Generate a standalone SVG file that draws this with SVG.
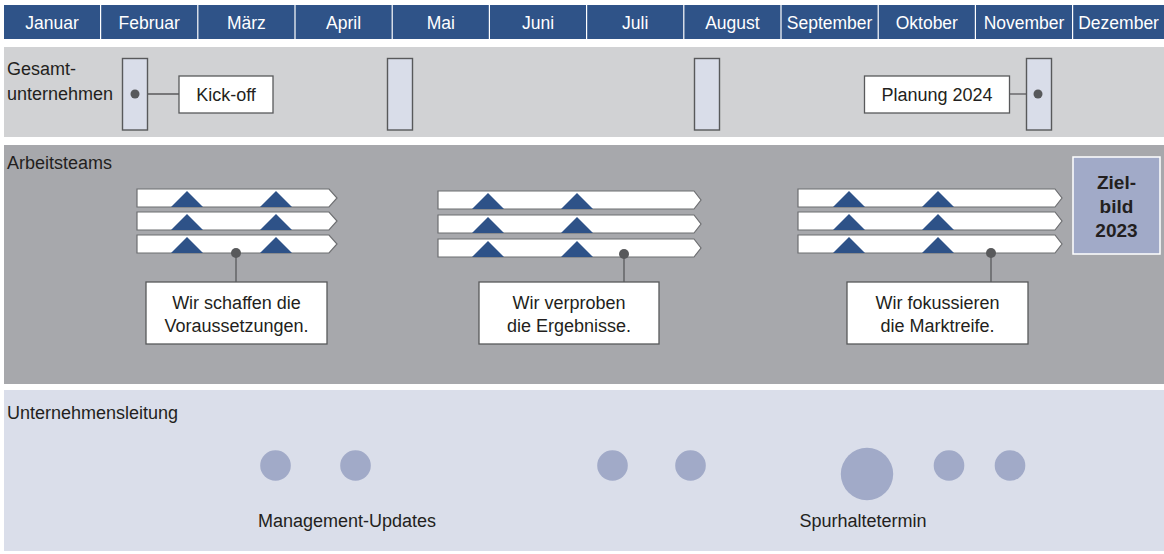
<svg xmlns="http://www.w3.org/2000/svg" xmlns:xlink="http://www.w3.org/1999/xlink" width="1164" height="554" viewBox="0 0 1164 554">
<defs>
<style>
text{font-family:"Liberation Sans",Arial,sans-serif;font-size:18px;fill:#231f20}
.hd rect{fill:#2f5388}
.hd text{fill:#ffffff;text-anchor:middle;font-size:17.5px}
.mid{text-anchor:middle}
.tall{fill:#d9dde9;stroke:#58595b;stroke-width:1.4}
.box{fill:#ffffff;stroke:#58595b;stroke-width:1.3}
.bar{fill:#ffffff;stroke:#6d6e71;stroke-width:1.2}
.tri{fill:#2e5288}
.dot{fill:#58595b}
.ln{stroke:#58595b;stroke-width:1.3;fill:none}
.circ{fill:#a1aac8}
.zb{fill:#a1aac8;stroke:#ffffff;stroke-width:1.5}
.bold{font-weight:bold;font-size:19px;text-anchor:middle}
</style>
<path id="tri" d="M0,0 L16,-16 L32,0 Z"/>
</defs>
<rect width="1164" height="554" fill="#ffffff"/>

<g id="header" class="hd">
<rect x="4" y="5" width="96" height="34"/><text x="52" y="28.5">Januar</text>
<rect x="101.2" y="5" width="96" height="34"/><text x="149.2" y="28.5">Februar</text>
<rect x="198.4" y="5" width="96" height="34"/><text x="246.4" y="28.5">März</text>
<rect x="295.6" y="5" width="96" height="34"/><text x="343.6" y="28.5">April</text>
<rect x="392.8" y="5" width="96" height="34"/><text x="440.8" y="28.5">Mai</text>
<rect x="490" y="5" width="96" height="34"/><text x="538" y="28.5">Juni</text>
<rect x="587.2" y="5" width="96" height="34"/><text x="635.2" y="28.5">Juli</text>
<rect x="684.4" y="5" width="96" height="34"/><text x="732.4" y="28.5">August</text>
<rect x="781.6" y="5" width="96" height="34"/><text x="829.6" y="28.5">September</text>
<rect x="878.8" y="5" width="96" height="34"/><text x="926.8" y="28.5">Oktober</text>
<rect x="976" y="5" width="96" height="34"/><text x="1024" y="28.5">November</text>
<rect x="1073.2" y="5" width="91" height="34"/><text x="1118.6" y="28.5">Dezember</text>
</g>

<g id="band-gesamt">
<rect x="4" y="47" width="1160" height="90" fill="#d1d2d4"/>
<text x="7" y="75">Gesamt-</text>
<text x="7" y="100">unternehmen</text>
</g>
<g id="band-teams">
<rect x="4" y="145" width="1160" height="239" fill="#a7a8ac"/>
<text x="7" y="169">Arbeitsteams</text>
</g>
<g id="band-leitung">
<rect x="4" y="390" width="1160" height="161" fill="#dadeea"/>
<text x="7" y="419">Unternehmensleitung</text>
</g>

<g id="connectors">
<line class="ln" x1="135" y1="94" x2="179" y2="94"/>
<line class="ln" x1="1010" y1="94" x2="1038" y2="94"/>
<line class="ln" x1="236" y1="253" x2="236" y2="282"/>
<line class="ln" x1="624" y1="254" x2="624" y2="282"/>
<line class="ln" x1="991" y1="253" x2="991" y2="282"/>
</g>

<g id="milestone-feb"><rect class="tall" x="122.5" y="58.5" width="25" height="71.5"/><circle class="dot" cx="135" cy="94" r="4.5"/></g>
<g id="milestone-apr"><rect class="tall" x="387.5" y="58.5" width="25" height="71.5"/></g>
<g id="milestone-jul"><rect class="tall" x="694.5" y="58.5" width="25" height="71.5"/></g>
<g id="milestone-nov"><rect class="tall" x="1026.5" y="58.5" width="25" height="71.5"/><circle class="dot" cx="1038" cy="94" r="4.5"/></g>

<g id="kickoff"><rect class="box" x="179" y="76" width="94" height="37"/><text class="mid" x="226" y="101">Kick-off</text></g>
<g id="planung"><rect class="box" x="864.5" y="76" width="145" height="37"/><text class="mid" x="937" y="101">Planung 2024</text></g>

<g id="team-group-1">
<polygon class="bar" points="137,189 329,189 337,198 329,207 137,207"/>
<polygon class="bar" points="137,212 329,212 337,221 329,230 137,230"/>
<polygon class="bar" points="137,235 329,235 337,244 329,253 137,253"/>
<use xlink:href="#tri" class="tri" x="171" y="207"/><use xlink:href="#tri" class="tri" x="260" y="207"/>
<use xlink:href="#tri" class="tri" x="171" y="230"/><use xlink:href="#tri" class="tri" x="260" y="230"/>
<use xlink:href="#tri" class="tri" x="171" y="253"/><use xlink:href="#tri" class="tri" x="260" y="253"/>
<circle class="dot" cx="236" cy="253" r="5"/>
</g>
<g id="team-group-2">
<polygon class="bar" points="438,191 694,191 701,200 694,209 438,209"/>
<polygon class="bar" points="438,215 694,215 701,224 694,233 438,233"/>
<polygon class="bar" points="438,239 694,239 701,248 694,257 438,257"/>
<use xlink:href="#tri" class="tri" x="472" y="209"/><use xlink:href="#tri" class="tri" x="561" y="209"/>
<use xlink:href="#tri" class="tri" x="472" y="233"/><use xlink:href="#tri" class="tri" x="561" y="233"/>
<use xlink:href="#tri" class="tri" x="472" y="257"/><use xlink:href="#tri" class="tri" x="561" y="257"/>
<circle class="dot" cx="624" cy="254" r="5"/>
</g>
<g id="team-group-3">
<polygon class="bar" points="798,189 1055,189 1062,198 1055,207 798,207"/>
<polygon class="bar" points="798,212 1055,212 1062,221 1055,230 798,230"/>
<polygon class="bar" points="798,235 1055,235 1062,244 1055,253 798,253"/>
<use xlink:href="#tri" class="tri" x="833" y="207"/><use xlink:href="#tri" class="tri" x="922" y="207"/>
<use xlink:href="#tri" class="tri" x="833" y="230"/><use xlink:href="#tri" class="tri" x="922" y="230"/>
<use xlink:href="#tri" class="tri" x="833" y="253"/><use xlink:href="#tri" class="tri" x="922" y="253"/>
<circle class="dot" cx="991" cy="253" r="5"/>
</g>

<g id="note-1"><rect class="box" x="146" y="282" width="181" height="62"/><text class="mid" x="236.5" y="309">Wir schaffen die</text><text class="mid" x="236.5" y="332">Voraussetzungen.</text></g>
<g id="note-2"><rect class="box" x="479" y="282" width="180" height="62"/><text class="mid" x="569" y="309">Wir verproben</text><text class="mid" x="569" y="332">die Ergebnisse.</text></g>
<g id="note-3"><rect class="box" x="847" y="282" width="181" height="62"/><text class="mid" x="937.5" y="309">Wir fokussieren</text><text class="mid" x="937.5" y="332">die Marktreife.</text></g>

<g id="zielbild"><rect class="zb" x="1073" y="157" width="87" height="97"/>
<text class="bold" x="1116.5" y="189">Ziel-</text><text class="bold" x="1116.5" y="213">bild</text><text class="bold" x="1116.5" y="237">2023</text></g>

<g id="management-updates">
<circle class="circ" cx="275.5" cy="465.5" r="15.3"/>
<circle class="circ" cx="355.5" cy="465.5" r="15.3"/>
<circle class="circ" cx="612.5" cy="465.5" r="15.3"/>
<circle class="circ" cx="690.5" cy="465.5" r="15.3"/>
<circle class="circ" cx="949" cy="465.5" r="15.3"/>
<circle class="circ" cx="1010" cy="465.5" r="15.3"/>
<text class="mid" x="347" y="527">Management-Updates</text>
</g>
<g id="spurhaltetermin">
<circle class="circ" cx="867" cy="474" r="26.2"/>
<text class="mid" x="863" y="527">Spurhaltetermin</text>
</g>
</svg>
